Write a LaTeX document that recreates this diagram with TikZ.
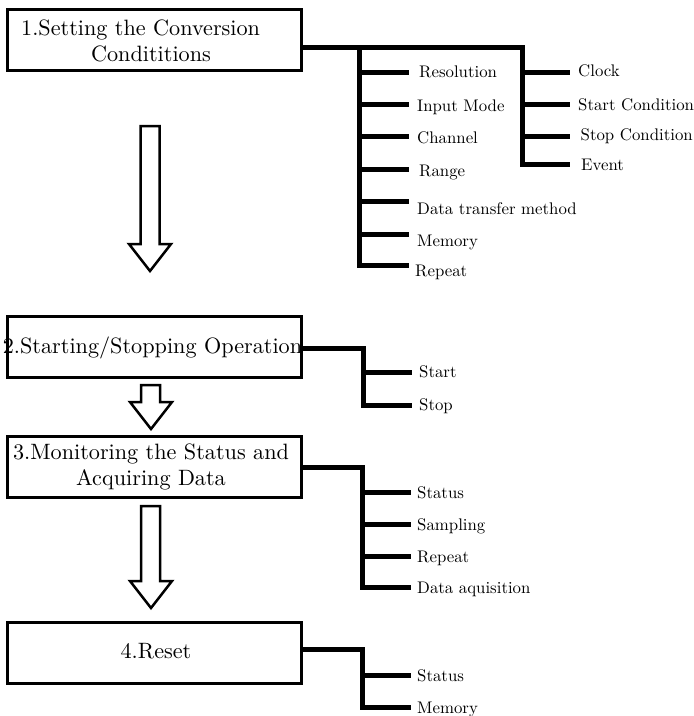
\documentclass[tikz,border=0pt]{standalone}
\usepackage{fontspec}
\setmainfont{lmroman10-regular.otf}
\begin{document}
\begin{tikzpicture}[x=1pt,y=-1pt]
\tikzset{
  conn/.style={line width=5pt, line join=miter, line cap=butt},
  box/.style={draw, line width=3pt, minimum width=293.5pt, minimum height=61pt,
    inner sep=0pt, outer sep=0pt, anchor=north west},
  btxt/.style={font=\fontsize{22.2}{26}\selectfont, inner sep=0pt, anchor=base},
  lab/.style={font=\fontsize{16.8}{20}\selectfont, inner sep=0pt, anchor=base west},
  blockarrow/.style={draw, line width=2.5pt, line join=miter, fill=white}
}
\useasboundingbox (0,0) rectangle (694,716);

% boxes
\node[box] (b1) at (7.5,9) {};
\node[box] (b2) at (7.5,316.5) {};
\node[box] (b3) at (7.5,436.5) {};
\node[box] (b4) at (7.5,622.5) {};

% box texts
\node[btxt, anchor=base west] (b1a) at (21,35) {1.Setting the Conversion};
\node[btxt] (b1b) at (151,61) {Condititions};
\node[btxt] (b2a) at (152.5,353) {2.Starting/Stopping Operation};
\node[btxt] (b3a) at (151,459) {3.Monitoring the Status and};
\node[btxt] (b3b) at (151,485) {Acquiring Data};
\node[btxt] (b4a) at (156,658) {4.Reset};

% block arrows
\draw[blockarrow] (140.5,126) -- (159.5,126) -- (159.5,244) -- (171,244) -- (150,271) -- (129,244) -- (140.5,244) -- cycle;
\draw[blockarrow] (141,385) -- (160,385) -- (160,402) -- (172,402) -- (151,429) -- (130,402) -- (141,402) -- cycle;
\draw[blockarrow] (141,506) -- (160,506) -- (160,581) -- (172,581) -- (151,608) -- (130,581) -- (141,581) -- cycle;

% labels: group 1
\node[lab] (l11) at (419,77) {Resolution};
\node[lab] (l12) at (417,111) {Input Mode};
\node[lab] (l13) at (417,143) {Channel};
\node[lab] (l14) at (419,176) {Range};
\node[lab] (l15) at (417,214) {Data transfer method};
\node[lab] (l16) at (417,246) {Memory};
\node[lab] (l17) at (415,276) {Repeat};
\node[lab] (l21) at (578,76) {Clock};
\node[lab] (l22) at (578,110) {Start Condition};
\node[lab] (l23) at (580.5,140) {Stop Condition};
\node[lab] (l24) at (581,170) {Event};
% group 2
\node[lab] (l31) at (419,377) {Start};
\node[lab] (l32) at (419,410) {Stop};
% group 3
\node[lab] (l41) at (417,498) {Status};
\node[lab] (l42) at (417,530) {Sampling};
\node[lab] (l43) at (417,562) {Repeat};
\node[lab] (l44) at (417,593) {Data aquisition};
% group 4
\node[lab] (l51) at (417,681) {Status};
\node[lab] (l52) at (417,713) {Memory};

% junctions and branch ends
\coordinate (j1) at (359,47);
\coordinate (j2) at (522,47);
\coordinate (e11) at (409,72);
\coordinate (e12) at (409,104);
\coordinate (e13) at (409,136);
\coordinate (e14) at (409,169);
\coordinate (e15) at (409,201);
\coordinate (e16) at (409,234);
\coordinate (e17) at (409,265);
\coordinate (e21) at (570,72);
\coordinate (e22) at (570,104);
\coordinate (e23) at (570,136);
\coordinate (e24) at (570,164);

\coordinate (j3) at (363,348);
\coordinate (e31) at (412,372);
\coordinate (e32) at (412,405);

\coordinate (j4) at (362,467);
\coordinate (e41) at (411,492);
\coordinate (e42) at (411,524);
\coordinate (e43) at (411,556);
\coordinate (e44) at (411,587);

\coordinate (j5) at (362,649);
\coordinate (e51) at (411,675);
\coordinate (e52) at (411,707);

% connectors group 1
\draw[conn] (b1.east |- j1) -- (j2) -- (j2 |- e24) -- (e24);
\draw[conn] (j1) -- (j1 |- e17) -- (e17);
\foreach \e in {e11,e12,e13,e14,e15,e16} \draw[conn] (j1 |- \e) -- (\e);
\foreach \e in {e21,e22,e23} \draw[conn] (j2 |- \e) -- (\e);

% group 2
\draw[conn] (b2.east |- j3) -- (j3) -- (j3 |- e32) -- (e32);
\draw[conn] (j3 |- e31) -- (e31);

% group 3
\draw[conn] (b3.east |- j4) -- (j4) -- (j4 |- e44) -- (e44);
\foreach \e in {e41,e42,e43} \draw[conn] (j4 |- \e) -- (\e);

% group 4
\draw[conn] (b4.east |- j5) -- (j5) -- (j5 |- e52) -- (e52);
\draw[conn] (j5 |- e51) -- (e51);
\end{tikzpicture}
\end{document}
